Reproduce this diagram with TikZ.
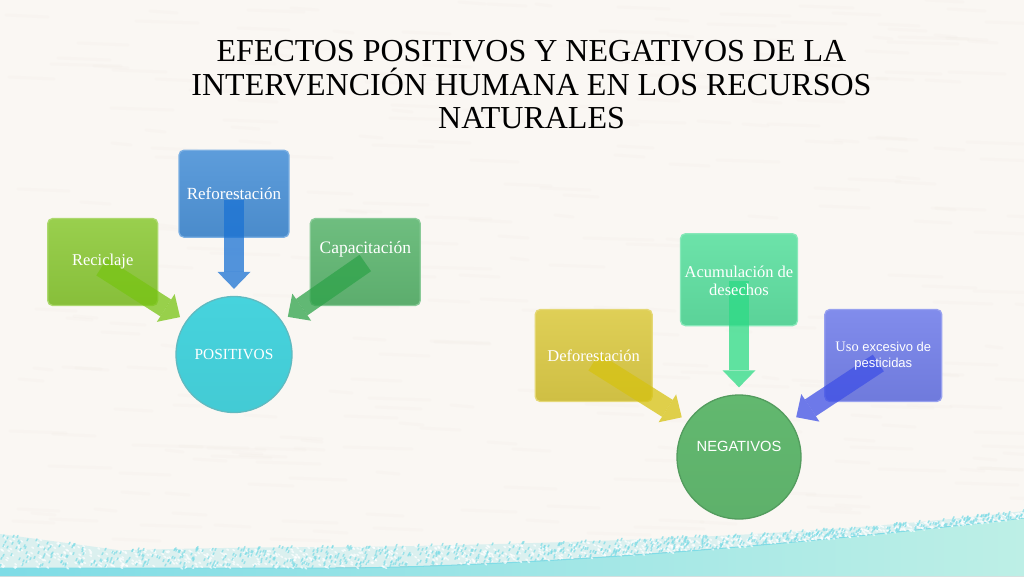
\documentclass[tikz,border=0pt]{standalone}
\usepackage{fontspec}
\setmainfont{Liberation Serif}
\newfontfamily\arialfont{Liberation Sans}
\usepackage{xcolor}
\usetikzlibrary{positioning}
\usetikzlibrary{arrows.meta}

\definecolor{paper}{HTML}{FAF7F3}
\definecolor{paperdark}{HTML}{F0EBE4}
\definecolor{washleft}{HTML}{7FDCE6}
\definecolor{washright}{HTML}{BDEFE6}
\definecolor{limebox}{HTML}{90CB3E}
\definecolor{bluebox}{HTML}{4F94D8}
\definecolor{grassbox}{HTML}{62B874}
\definecolor{cyanball}{HTML}{46D3DD}
\definecolor{mintbox}{HTML}{60E0A2}
\definecolor{yellowbox}{HTML}{DCCB48}
\definecolor{violetbox}{HTML}{7682EA}
\definecolor{greenball}{HTML}{62B86F}
\definecolor{limearrow}{HTML}{78C414}
\definecolor{bluearrow}{HTML}{1A72D4}
\definecolor{grassarrow}{HTML}{2FA34A}
\definecolor{mintarrow}{HTML}{2CDB85}
\definecolor{yellowarrow}{HTML}{D6C212}
\definecolor{violetarrow}{HTML}{3F50E6}

\tikzset{
  declare function={
    washedge(\t)=568-50*(max(\t-340,1)/684)^1.6;
    washgap(\t)=14+20*max(1-\t/120,0)+7*sin(\t/680*180);
  },
  boxtext/.style={text=white, align=center, inner sep=0pt, font=\fontsize{16.5}{18}\selectfont},
  smallbox/.style={rectangle, rounded corners=5pt, minimum width=110pt, minimum height=87pt,
    inner sep=0pt, line width=1.3pt, top color=#1!92!white, bottom color=#1!94!black,
    draw=#1!75!white},
  bigbox/.style={smallbox=#1, minimum width=117pt, minimum height=92pt},
  ball/.style={circle, minimum size=#1, inner sep=0pt, line width=1.3pt},
  fatarrow/.style={line width=20pt, opacity=0.75, shorten >=7pt,
    -{Triangle[width=33pt, length=17pt, line width=0pt]}},
}

\begin{document}
\begin{tikzpicture}[x=1pt, y=-1pt]

    \useasboundingbox (0,0) rectangle (1024,576);

    % Paper and watercolour band
    \fill[paper] (0,0) rectangle (1024,576);
    \begin{scope}
    \clip (0,0) rectangle (1024,576);
    \pgfmathsetseed{11}
    \foreach \i in {1,...,320} {
      \pgfmathsetmacro{\spotx}{random(0,1024)}
      \pgfmathsetmacro{\spoty}{random(0,540)}
      \pgfmathsetmacro{\spotw}{random(15,70)}
      \draw[paperdark, line width=3pt, opacity=0.2, line cap=round]
        (\spotx,\spoty) -- ++(\spotw,2);
    }
    \fill[washleft, opacity=0.25]
      plot[domain=0:1024, samples=70] (\x,{washedge(\x)-washgap(\x)})
      -- (1024,576) -- (0,576) -- cycle;
    \fill[left color=washleft, right color=washright]
      plot[domain=0:1024, samples=60] (\x,{washedge(\x)})
      -- (1024,576) -- (0,576) -- cycle;
    \draw[washleft, line width=1pt] plot[domain=0:1024, samples=60] (\x,{washedge(\x)});
    \foreach \i in {1,...,1000} {
      \pgfmathsetmacro{\washx}{random(0,1024)}
      \pgfmathsetmacro{\washy}{washedge(\washx)-rnd*washgap(\washx)}
      \draw[white, line width=1.6pt, opacity=0.7, line cap=round] (\washx,\washy) -- ++(1.5,1);
    }
    \foreach \i in {1,...,800} {
      \pgfmathsetmacro{\washx}{random(0,1024)}
      \pgfmathsetmacro{\washy}{washedge(\washx)-rnd*washgap(\washx)}
      \draw[washleft, line width=1.4pt, opacity=0.75, line cap=round] (\washx,\washy) -- ++(1,-2);
    }
    \end{scope}

    % Title
    \node[align=center, font=\fontsize{32}{33.5}\selectfont] (title) at (531.5,85)
      {EFECTOS POSITIVOS Y NEGATIVOS DE LA\\
       INTERVENCIÓN HUMANA EN LOS RECURSOS\\
       NATURALES};

    % Define nodes
    \node[ball=116pt, top color=cyanball, bottom color=cyanball!96!black,
      draw=cyanball!80!black!80!white] (positivos) at (234,354.5) {};
    \node[smallbox=bluebox, above=58pt of positivos] (reforestacion) {};
    \node[smallbox=limebox, left=17pt of positivos, yshift=92.5pt] (reciclaje) {};
    \node[smallbox=grassbox, right=17pt of positivos, yshift=92.5pt] (capacitacion) {};

    \node[ball=124pt, top color=greenball, bottom color=greenball!96!black,
      draw=greenball!85!black] (negativos) at (739,457) {};
    \node[bigbox=mintbox, above=68pt of negativos] (acumulacion) {};
    \node[bigbox=yellowbox, left=23.5pt of negativos, yshift=101.5pt] (deforestacion) {};
    \node[bigbox=violetbox, right=22.5pt of negativos, yshift=101.5pt] (uso) {};

    % Connect the nodes
    \draw[fatarrow, limearrow] ([xshift=-1pt, yshift=-5pt]reciclaje.center) -- (positivos.145);
    \draw[fatarrow, bluearrow] ([yshift=-6pt]reforestacion.center) -- (positivos.north);
    \draw[fatarrow, grassarrow] ([yshift=-1pt]capacitacion.center) -- (positivos.35);
    \draw[fatarrow, yellowarrow] ([yshift=-6.5pt]deforestacion.center) -- (negativos.145);
    \draw[fatarrow, mintarrow] ([yshift=-1.5pt]acumulacion.center) -- (negativos.north);
    \draw[fatarrow, violetarrow] ([xshift=-5pt, yshift=-7.5pt]uso.center) -- (negativos.35);

    % Labels above the arrows
    \node[boxtext, font=\fontsize{15.4}{16}\selectfont] (positivostext) at (positivos) {POSITIVOS};
    \node[boxtext, font=\fontsize{17}{18}\selectfont] (reforestaciontext) at (reforestacion) {Reforestación};
    \node[boxtext] (reciclajetext) at (reciclaje) {Reciclaje};
    \node[boxtext, font=\fontsize{17.5}{18}\selectfont, yshift=13pt] (capacitaciontext) at (capacitacion) {Capacitación};
    \node[boxtext, font=\arialfont\fontsize{14.7}{16}\selectfont, yshift=11pt] (negativostext) at (negativos) {NEGATIVOS};
    \node[boxtext, yshift=-1pt] (acumulaciontext) at (acumulacion) {Acumulación de\\desechos};
    \node[boxtext] (deforestaciontext) at (deforestacion) {Deforestación};
    \node[boxtext, yshift=-1pt, font=\fontsize{14.5}{16}\selectfont] (usotext) at (uso)
      {Uso {\arialfont\fontsize{13}{16}\selectfont excesivo de}\\{\arialfont\fontsize{13}{16}\selectfont pesticidas}};

\end{tikzpicture}
\end{document}
